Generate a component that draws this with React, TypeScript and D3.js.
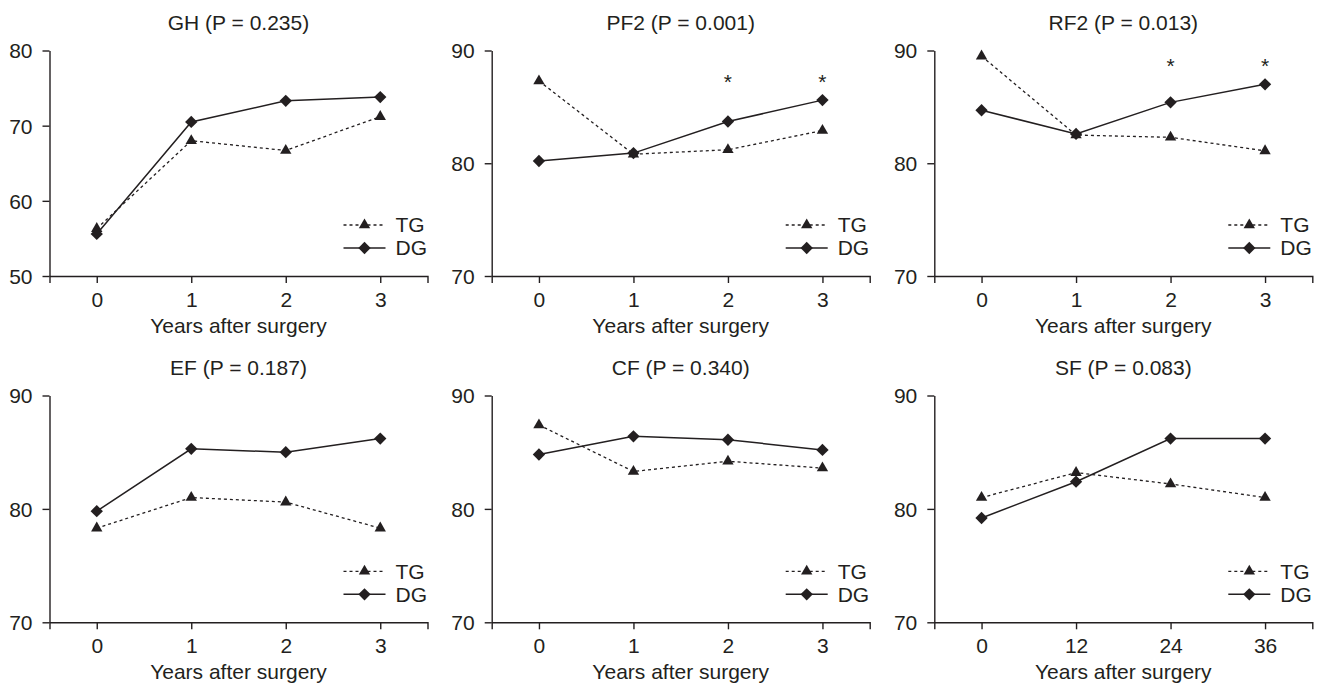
import React, { useRef, useEffect } from "react";
import * as d3 from "d3";

const width = 1323;
const height = 686;
const ink = "#231f20";
const font = "'Liberation Sans', Arial, sans-serif";
const fontSize = "21px";

// x categories
const years = [0, 1, 2, 3];
const months = [0, 12, 24, 36];

// panel titles
const titles = [
  "GH (P = 0.235)",
  "PF2 (P = 0.001)",
  "RF2 (P = 0.013)",
  "EF (P = 0.187)",
  "CF (P = 0.340)",
  "SF (P = 0.083)",
];

// y ranges and ticks
const yDomains = [[50, 80], [70, 90], [70, 90], [70, 90], [70, 90], [70, 90]];
const yTicks = [[50, 60, 70, 80], [70, 80, 90], [70, 80, 90], [70, 80, 90], [70, 80, 90], [70, 80, 90]];

// series values
const ghTG = [56.3, 68.0, 66.7, 71.2];
const ghDG = [55.6, 70.5, 73.3, 73.8];
const pf2TG = [87.3, 80.8, 81.2, 82.9];
const pf2DG = [80.2, 80.9, 83.7, 85.6];
const rf2TG = [89.5, 82.5, 82.3, 81.1];
const rf2DG = [84.7, 82.6, 85.4, 87.0];
const efTG = [78.3, 81.0, 80.6, 78.3];
const efDG = [79.8, 85.3, 85.0, 86.2];
const cfTG = [87.4, 83.3, 84.2, 83.6];
const cfDG = [84.8, 86.4, 86.1, 85.2];
const sfTG = [81.0, 83.2, 82.2, 81.0];
const sfDG = [79.2, 82.4, 86.2, 86.2];

// significance markers (*) per time point
const pf2Sig = [false, false, true, true];
const rf2Sig = [false, false, true, true];
const noSig = [false, false, false, false];

const panels = [
  { title: titles[0], x: years, tg: ghTG, dg: ghDG, sig: noSig, y: yDomains[0], ticks: yTicks[0] },
  { title: titles[1], x: years, tg: pf2TG, dg: pf2DG, sig: pf2Sig, y: yDomains[1], ticks: yTicks[1] },
  { title: titles[2], x: years, tg: rf2TG, dg: rf2DG, sig: rf2Sig, y: yDomains[2], ticks: yTicks[2] },
  { title: titles[3], x: years, tg: efTG, dg: efDG, sig: noSig, y: yDomains[3], ticks: yTicks[3] },
  { title: titles[4], x: years, tg: cfTG, dg: cfDG, sig: noSig, y: yDomains[4], ticks: yTicks[4] },
  { title: titles[5], x: months, tg: sfTG, dg: sfDG, sig: noSig, y: yDomains[5], ticks: yTicks[5] },
];

// layout
const colLeft = [49.5, 491.7, 934.3];
const rowTop = [50.5, 395.5];
const rowBottom = [276, 622.3];
const plotW = 378;

export default function App() {
  const svgRef = useRef<SVGSVGElement>(null);

  useEffect(() => {
    const svg = d3.select(svgRef.current);
    svg.selectAll("*").remove();

    const tri = d3.symbol(d3.symbolTriangle, 56);
    const dia = d3.symbol(d3.symbolSquare, 76);

    panels.forEach((p, i) => {
      const col = i % 3;
      const row = Math.floor(i / 3);
      const left = colLeft[col];
      const top = rowTop[row];
      const h = rowBottom[row] - top;
      const step = p.x[1] - p.x[0];

      const x = d3
        .scaleLinear()
        .domain([p.x[0] - step / 2, p.x[p.x.length - 1] + step / 2])
        .range([0, plotW]);
      const y = d3.scaleLinear().domain(p.y).range([h, 0]);

      const g = svg.append("g").attr("transform", `translate(${left},${top})`);

      // axes
      const xa = g
        .append("g")
        .attr("transform", `translate(0,${h})`)
        .call(d3.axisBottom(x).tickValues(p.x).tickSize(7).tickSizeOuter(7).tickPadding(9).tickFormat(d3.format("d")));
      const ya = g
        .append("g")
        .call(d3.axisLeft(y).tickValues(p.ticks).tickSize(7).tickSizeOuter(0).tickPadding(10).tickFormat(d3.format("d")));
      [xa, ya].forEach((a) => {
        a.selectAll("path,line").attr("stroke", ink).attr("stroke-width", 1.4);
        a.selectAll("text").attr("fill", ink).style("font-family", font).style("font-size", fontSize);
      });
      ya.selectAll("text").attr("dy", "0.35em");

      // title and x label
      g.append("text")
        .attr("x", plotW / 2)
        .attr("y", -21)
        .attr("text-anchor", "middle")
        .attr("fill", ink)
        .style("font-family", font)
        .style("font-size", fontSize)
        .text(p.title);
      g.append("text")
        .attr("x", plotW / 2)
        .attr("y", h + 57)
        .attr("text-anchor", "middle")
        .attr("fill", ink)
        .style("font-family", font)
        .style("font-size", fontSize)
        .text("Years after surgery");

      const line = d3
        .line<number>()
        .x((_, j) => x(p.x[j]))
        .y((d) => y(d));

      // TG dashed
      g.append("path")
        .attr("d", line(p.tg))
        .attr("fill", "none")
        .attr("stroke", ink)
        .attr("stroke-width", 1.3)
        .attr("stroke-dasharray", "3,3");
      // DG solid
      g.append("path")
        .attr("d", line(p.dg))
        .attr("fill", "none")
        .attr("stroke", ink)
        .attr("stroke-width", 1.5);

      g.selectAll(".tg")
        .data(p.tg)
        .enter()
        .append("path")
        .attr("d", tri)
        .attr("fill", ink)
        .attr("transform", (d, j) => `translate(${x(p.x[j])},${y(d)})`);
      g.selectAll(".dg")
        .data(p.dg)
        .enter()
        .append("path")
        .attr("d", dia)
        .attr("fill", ink)
        .attr("transform", (d, j) => `translate(${x(p.x[j])},${y(d)}) rotate(45)`);

      // significance asterisks
      const starY = y(d3.max(p.dg) as number) - 11;
      p.sig.forEach((s, j) => {
        if (!s) return;
        g.append("text")
          .attr("x", x(p.x[j]))
          .attr("y", starY)
          .attr("text-anchor", "middle")
          .attr("fill", ink)
          .style("font-family", font)
          .style("font-size", fontSize)
          .text("*");
      });

      // legend
      const legend = [
        { name: "TG", dash: "3,3", sym: tri, rot: "", dy: h - 51 },
        { name: "DG", dash: null, sym: dia, rot: " rotate(45)", dy: h - 28 },
      ];
      legend.forEach((l) => {
        const lg = g.append("g").attr("transform", `translate(${plotW},${l.dy})`);
        lg.append("line")
          .attr("x1", -84)
          .attr("x2", -42)
          .attr("stroke", ink)
          .attr("stroke-width", l.dash ? 1.3 : 1.5)
          .attr("stroke-dasharray", l.dash);
        lg.append("path").attr("d", l.sym).attr("fill", ink).attr("transform", `translate(-63,0)${l.rot}`);
        lg.append("text")
          .attr("x", -32)
          .attr("dy", "0.35em")
          .attr("fill", ink)
          .style("font-family", font)
          .style("font-size", fontSize)
          .text(l.name);
      });
    });
  }, []);

  return (
    <div style={{ position: "absolute", left: 0, top: 0, background: "#fff" }}>
      <svg width={width} height={height} ref={svgRef}></svg>
    </div>
  );
}
